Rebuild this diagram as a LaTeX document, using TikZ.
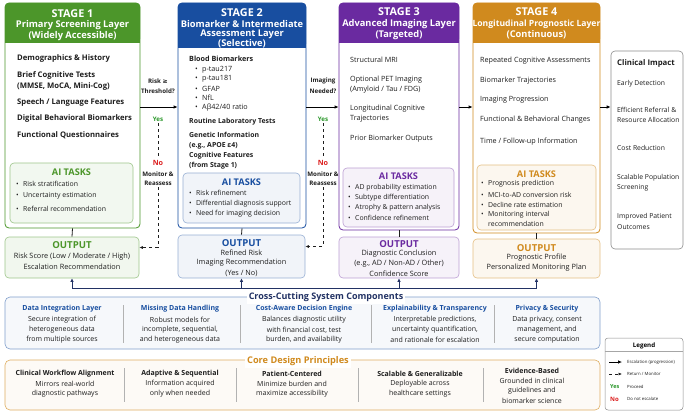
\documentclass[tikz,border=0pt]{standalone}
\usepackage{fontspec}
\setmainfont{Open Sans}
\newfontfamily\symfont{DejaVu Sans}
\usetikzlibrary{arrows.meta}

\definecolor{sgreen}{RGB}{76,150,42}
\definecolor{sblue}{RGB}{24,78,160}
\definecolor{spurple}{RGB}{106,42,160}
\definecolor{sorange}{RGB}{208,138,30}
\definecolor{navy}{RGB}{34,50,100}
\definecolor{txt}{RGB}{30,30,30}
\definecolor{yesgreen}{RGB}{40,150,40}
\definecolor{nored}{RGB}{220,30,30}

\begin{document}
\begin{tikzpicture}[x=1pt,y=-1pt]
  \tikzstyle{stage}=[draw,rounded corners=4pt,fill=white,line width=0.8pt,inner sep=0pt];
  \tikzstyle{head}=[rounded corners=4pt,inner sep=0pt];
  \tikzstyle{headtxt}=[text=white,inner sep=0pt,font=\fontsize{9.3}{10}\selectfont\bfseries];
  \tikzstyle{stagenum}=[text=white,inner sep=0pt,font=\fontsize{10.8}{12}\selectfont\bfseries];
  \tikzstyle{task}=[draw,rounded corners=4pt,line width=0.6pt,inner sep=0pt];
  \tikzstyle{outbox}=[draw,rounded corners=4pt,line width=0.6pt,inner sep=0pt];
  \tikzstyle{entry}=[anchor=west,inner sep=0pt,text=txt,font=\fontsize{7.7}{9}\selectfont\bfseries];
  \tikzstyle{plain}=[anchor=west,inner sep=0pt,text=txt,font=\fontsize{7.2}{9}\selectfont];
  \tikzstyle{bul}=[anchor=west,inner sep=0pt,text=txt,font=\fontsize{6.9}{8}\selectfont];
  \tikzstyle{tasktitle}=[inner sep=0pt,font=\fontsize{9.2}{10}\selectfont\bfseries];
  \tikzstyle{outtitle}=[inner sep=0pt,font=\fontsize{9.6}{11}\selectfont\bfseries];
  \tikzstyle{outtxt}=[inner sep=0pt,text=txt,font=\fontsize{7.3}{8}\selectfont];
  \tikzstyle{ask}=[inner sep=0pt,text=txt,font=\fontsize{6.2}{7}\selectfont\bfseries];
  \tikzstyle{yes}=[inner sep=0pt,text=yesgreen,font=\fontsize{6.2}{7}\selectfont\bfseries];
  \tikzstyle{no}=[inner sep=0pt,text=nored,font=\fontsize{7.2}{8}\selectfont\bfseries];
  \tikzstyle{flow}=[->,>={Latex[length=4pt,width=3.5pt]},line width=0.8pt,black];
  \tikzstyle{back}=[->,>={Latex[length=3.5pt,width=3pt]},line width=0.7pt,dashed,txt];
  \tikzstyle{link}=[line width=0.8pt,txt];
  \tikzstyle{bus}=[->,>={Latex[length=3.5pt,width=3.5pt]},line width=0.9pt,navy];
  \tikzstyle{band}=[draw,rounded corners=5pt,line width=0.6pt,inner sep=0pt];
  \tikzstyle{coltitle}=[inner sep=0pt,font=\fontsize{7}{8}\selectfont\bfseries];
  \tikzstyle{coltxt}=[inner sep=0pt,text=txt,font=\fontsize{7}{8}\selectfont];
  \tikzstyle{sep}=[line width=0.5pt,black!30];
  \tikzstyle{impact}=[anchor=west,inner sep=0pt,text=txt,font=\fontsize{6.8}{7.5}\selectfont];
  \tikzstyle{tiny}=[anchor=west,inner sep=0pt,text=txt,font=\fontsize{4.3}{5}\selectfont];

  \useasboundingbox (0,0) rectangle (685,413);

  % ---------------- stage frames
  \node[stage,draw=sgreen,minimum width=135,minimum height=225] (S1) at (72.5,115.5) {};
  \node[stage,draw=sblue,minimum width=128,minimum height=225] (S2) at (242,115.5) {};
  \node[stage,draw=spurple,minimum width=120,minimum height=227] (S3) at (399,116.5) {};
  \node[stage,draw=sorange,minimum width=127,minimum height=230] (S4) at (536.5,118) {};

  % headers
  \node[head,fill=sgreen,minimum width=135,minimum height=40,anchor=north] (H1) at (S1.north) {};
  \node[head,fill=sblue,minimum width=128,minimum height=45,anchor=north] (H2) at (S2.north) {};
  \node[head,fill=spurple,minimum width=120,minimum height=40,anchor=north] (H3) at (S3.north) {};
  \node[head,fill=sorange,minimum width=127,minimum height=40,anchor=north] (H4) at (S4.north) {};
  \fill[sgreen] ([yshift=8pt]H1.south west) rectangle (H1.south east);
  \fill[sblue] ([yshift=8pt]H2.south west) rectangle (H2.south east);
  \fill[spurple] ([yshift=8pt]H3.south west) rectangle (H3.south east);
  \fill[sorange] ([yshift=8pt]H4.south west) rectangle (H4.south east);

  \node[stagenum] (H1a) at (72.5,14) {STAGE 1};
  \node[headtxt] (H1b) at (72.5,25) {Primary Screening Layer};
  \node[headtxt] (H1c) at (72.5,36) {(Widely Accessible)};
  \node[stagenum] (H2a) at (242,13) {STAGE 2};
  \node[headtxt] (H2b) at (242,24) {Biomarker \& Intermediate};
  \node[headtxt] (H2c) at (242,34) {Assessment Layer};
  \node[headtxt] (H2d) at (242,44) {(Selective)};
  \node[stagenum] (H3a) at (399,12) {STAGE 3};
  \node[headtxt] (H3b) at (399,24) {Advanced Imaging Layer};
  \node[headtxt] (H3c) at (399,35) {(Targeted)};
  \node[stagenum] (H4a) at (536.5,12) {STAGE 4};
  \node[headtxt,font=\fontsize{8.6}{10}\selectfont\bfseries] (H4b) at (536.5,24) {Longitudinal Prognostic Layer};
  \node[headtxt] (H4c) at (536.5,35) {(Continuous)};

  % ---------------- stage 1 inputs
  \node[entry] (s1a) at (17,58) {Demographics \& History};
  \node[entry] (s1b) at (17,75) {Brief Cognitive Tests};
  \node[entry] (s1c) at (17,86) {(MMSE, MoCA, Mini-Cog)};
  \node[entry] (s1d) at (17,102) {Speech / Language Features};
  \node[entry] (s1e) at (17,118) {Digital Behavioral Biomarkers};
  \node[entry] (s1f) at (17,135) {Functional Questionnaires};

  % stage 2 inputs
  \node[entry,font=\fontsize{7.2}{9}\selectfont\bfseries] (s2a) at (189,59) {Blood Biomarkers};
  \node[plain] (s2b) at (195,70) {\makebox[7pt][l]{\textbullet}p-tau217};
  \node[plain] (s2c) at (195,79) {\makebox[7pt][l]{\textbullet}p-tau181};
  \node[plain] (s2d) at (195,89) {\makebox[7pt][l]{\textbullet}GFAP};
  \node[plain] (s2e) at (195,98) {\makebox[7pt][l]{\textbullet}NfL};
  \node[plain] (s2f) at (195,108) {\makebox[7pt][l]{\textbullet}Aβ42/40 ratio};
  \node[entry,font=\fontsize{6.9}{9}\selectfont\bfseries] (s2g) at (189,122) {Routine Laboratory Tests};
  \node[entry,font=\fontsize{6.9}{9}\selectfont\bfseries] (s2h) at (189,135) {Genetic Information};
  \node[entry,font=\fontsize{6.9}{9}\selectfont\bfseries] (s2i) at (189,146) {(e.g., APOE ε4)};
  \node[entry,font=\fontsize{6.9}{9}\selectfont\bfseries] (s2j) at (189,156) {Cognitive Features};
  \node[entry,font=\fontsize{6.9}{9}\selectfont\bfseries] (s2k) at (189,166) {(from Stage 1)};

  % stage 3 inputs
  \node[plain] (s3a) at (350,60) {Structural MRI};
  \node[plain] (s3b) at (350,80) {Optional PET Imaging};
  \node[plain] (s3c) at (350,90) {(Amyloid / Tau / FDG)};
  \node[plain] (s3d) at (350,109) {Longitudinal Cognitive};
  \node[plain] (s3e) at (350,119) {Trajectories};
  \node[plain] (s3f) at (350,139) {Prior Biomarker Outputs};

  % stage 4 inputs
  \node[plain] (s4a) at (480,61) {Repeated Cognitive Assessments};
  \node[plain] (s4b) at (480,81) {Biomarker Trajectories};
  \node[plain] (s4c) at (480,100) {Imaging Progression};
  \node[plain] (s4d) at (480,120) {Functional \& Behavioral Changes};
  \node[plain] (s4e) at (480,142) {Time / Follow-up Information};

  % ---------------- AI tasks
  \node[task,draw=sgreen!55,fill=sgreen!7,minimum width=123,minimum height=60] (AI1) at (71.5,193) {};
  \node[tasktitle,text=sgreen] (AI1t) at (71.5,172) {AI TASKS};
  \node[bul] (AI1a) at (16,184) {\makebox[7pt][l]{\textbullet}Risk stratification};
  \node[bul] (AI1b) at (16,196) {\makebox[7pt][l]{\textbullet}Uncertainty estimation};
  \node[bul] (AI1c) at (16,209) {\makebox[7pt][l]{\textbullet}Referral recommendation};

  \node[task,draw=sblue!45,fill=sblue!6,minimum width=117,minimum height=50] (AI2) at (241.5,198) {};
  \node[tasktitle,text=sblue] (AI2t) at (241.5,182) {AI TASKS};
  \node[bul] (AI2a) at (189,193) {\makebox[7pt][l]{\textbullet}Risk refinement};
  \node[bul] (AI2b) at (189,204) {\makebox[7pt][l]{\textbullet}Differential diagnosis support};
  \node[bul] (AI2c) at (189,214) {\makebox[7pt][l]{\textbullet}Need for imaging decision};

  \node[task,draw=spurple!45,fill=spurple!6,minimum width=111,minimum height=59] (AI3) at (398.5,197.5) {};
  \node[tasktitle,text=spurple] (AI3t) at (398.5,176) {AI TASKS};
  \node[bul] (AI3a) at (348,188) {\makebox[7pt][l]{\textbullet}AD probability estimation};
  \node[bul] (AI3b) at (348,198) {\makebox[7pt][l]{\textbullet}Subtype differentiation};
  \node[bul] (AI3c) at (348,208) {\makebox[7pt][l]{\textbullet}Atrophy \& pattern analysis};
  \node[bul] (AI3d) at (348,218) {\makebox[7pt][l]{\textbullet}Confidence refinement};

  \node[task,draw=sorange!55,fill=sorange!7,minimum width=119,minimum height=65] (AI4) at (536.5,197.5) {};
  \node[tasktitle,text=sorange] (AI4t) at (536.5,174) {AI TASKS};
  \node[bul] (AI4a) at (481,184) {\makebox[7pt][l]{\textbullet}Prognosis prediction};
  \node[bul] (AI4b) at (481,195) {\makebox[7pt][l]{\textbullet}MCI-to-AD conversion risk};
  \node[bul] (AI4c) at (481,205) {\makebox[7pt][l]{\textbullet}Decline rate estimation};
  \node[bul] (AI4d) at (481,215) {\makebox[7pt][l]{\textbullet}Monitoring interval};
  \node[bul] (AI4e) at (488,224) {recommendation};

  % ---------------- outputs
  \node[outbox,draw=sgreen!55,fill=sgreen!8,minimum width=134,minimum height=41] (O1) at (72,257.5) {};
  \node[outtitle,text=sgreen] (O1t) at (72,245) {OUTPUT};
  \node[outtxt] (O1a) at (72,257) {Risk Score (Low / Moderate / High)};
  \node[outtxt] (O1b) at (72,267) {Escalation Recommendation};

  \node[outbox,draw=sblue!45,fill=sblue!6,minimum width=127,minimum height=43] (O2) at (241.5,256.5) {};
  \node[outtitle,text=sblue] (O2t) at (241.5,243) {OUTPUT};
  \node[outtxt] (O2a) at (241.5,253) {Refined Risk};
  \node[outtxt] (O2b) at (241.5,263) {Imaging Recommendation};
  \node[outtxt] (O2c) at (241.5,273) {(Yes / No)};

  \node[outbox,draw=spurple!45,fill=spurple!6,minimum width=120,minimum height=41] (O3) at (399,257.5) {};
  \node[outtitle,text=spurple] (O3t) at (399,244) {OUTPUT};
  \node[outtxt] (O3a) at (399,254) {Diagnostic Conclusion};
  \node[outtxt] (O3b) at (399,264) {(e.g., AD / Non-AD / Other)};
  \node[outtxt] (O3c) at (399,274) {Confidence Score};

  \node[outbox,draw=sorange!55,fill=sorange!7,minimum width=127,minimum height=39] (O4) at (536.5,258.5) {};
  \node[outtitle,text=sorange] (O4t) at (536.5,248) {OUTPUT};
  \node[outtxt] (O4a) at (536.5,258) {Prognostic Profile};
  \node[outtxt] (O4b) at (536.5,268) {Personalized Monitoring Plan};

  % stage -> output
  \draw[link] (S1.south) -- (O1.north);
  \draw[link] (S2.south) -- (O2.north);
  \draw[link] (S3.south) -- (O3.north);
  \draw[link] (S4.south) -- (O4.north);

  % ---------------- clinical impact
  \node[draw=black!45,rounded corners=4pt,line width=0.6pt,fill=white,inner sep=0pt,minimum width=72,minimum height=198] (CI) at (647,150) {};
  \node[impact,font=\fontsize{7.8}{9}\selectfont\bfseries] (CIt) at (617,63) {Clinical Impact};
  \node[impact] (CIa) at (617,84) {Early Detection};
  \node[impact] (CIb) at (617,110) {Efficient Referral \&};
  \node[impact] (CIc) at (617,120) {Resource Allocation};
  \node[impact] (CId) at (617,148) {Cost Reduction};
  \node[impact] (CIe) at (617,178) {Scalable Population};
  \node[impact] (CIf) at (617,188) {Screening};
  \node[impact] (CIg) at (617,217) {Improved Patient};
  \node[impact] (CIh) at (617,227) {Outcomes};

  % ---------------- escalation
  \coordinate (row) at (0,107);
  \node[ask] (q1a) at (158,81) {Risk {\symfont ≥}};
  \node[ask] (q1b) at (158,91) {Threshold?};
  \node[yes] (yes1) at (158,119) {Yes};
  \node[no] (no1) at (158,163) {No};
  \node[ask] (m1a) at (158,174) {Monitor \&};
  \node[ask] (m1b) at (158,183) {Reassess};

  \node[ask] (q2a) at (323,81) {Imaging};
  \node[ask] (q2b) at (323,91) {Needed?};
  \node[yes] (yes2) at (323,119) {Yes};
  \node[no] (no2) at (323,163) {No};
  \node[ask] (m2a) at (323,174) {Monitor \&};
  \node[ask] (m2b) at (323,183) {Reassess};

  % S1 => S2 => S3 => S4 => impact
  \draw[flow] (S1.east |- row) -- (S2.west |- row);
  \draw[flow] (S2.east |- row) -- (S3.west |- row);
  \draw[flow] (S3.east |- row) -- (S4.west |- row);
  \draw[flow] (S4.east |- row) -- (CI.west |- row);

  % no : back to output
  \draw[dashed,line width=0.7pt,txt] ([yshift=-2pt]yes1.south) -- ([yshift=2pt]no1.north);
  \draw[back] ([yshift=-2pt]m1b.south) |- ([yshift=10pt]O1.east);
  \draw[dashed,line width=0.7pt,txt] ([yshift=-2pt]yes2.south) -- ([yshift=2pt]no2.north);
  \draw[back] ([yshift=-2pt]m2b.south) |- ([yshift=10pt]O2.east);

  % ---------------- cross-cutting components
  \node[band,draw=sblue!55,fill=sblue!4,minimum width=595,minimum height=52] (CC) at (302.5,323) {};
  \node[fill=white,inner sep=2pt,text=navy,font=\fontsize{9}{11}\selectfont\bfseries] (CCt) at (326,297) {Cross-Cutting System Components};

  \coordinate (bus) at (0,288);
  \draw[line width=0.9pt,navy] (O1.south |- bus) -- (O4.south |- bus);
  \draw[bus] (O1.south |- bus) -- (O1.south);
  \draw[bus] (O2.south |- bus) -- (O2.south);
  \draw[bus] (O3.south |- bus) -- (O3.south);
  \draw[bus] (O4.south |- bus) -- (O4.south);

  \node[coltitle,text=sblue] (c1t) at (62,309) {Data Integration Layer};
  \node[coltxt] (c1a) at (62,320) {Secure integration of};
  \node[coltxt] (c1b) at (62,330) {heterogeneous data};
  \node[coltxt] (c1c) at (62,340) {from multiple sources};
  \node[coltitle,text=sblue] (c2t) at (180,309) {Missing Data Handling};
  \node[coltxt] (c2a) at (180,320) {Robust models for};
  \node[coltxt] (c2b) at (180,330) {incomplete, sequential,};
  \node[coltxt] (c2c) at (180,340) {and heterogeneous data};
  \node[coltitle,text=sblue] (c3t) at (304,309) {Cost-Aware Decision Engine};
  \node[coltxt] (c3a) at (304,320) {Balances diagnostic utility};
  \node[coltxt] (c3b) at (304,330) {with financial cost, test};
  \node[coltxt] (c3c) at (304,340) {burden, and availability};
  \node[coltitle,text=sblue] (c4t) at (435,309) {Explainability \& Transparency};
  \node[coltxt] (c4a) at (435,320) {Interpretable predictions,};
  \node[coltxt] (c4b) at (435,330) {uncertainty quantification,};
  \node[coltxt] (c4c) at (435,340) {and rationale for escalation};
  \node[coltitle,text=sblue] (c5t) at (547,309) {Privacy \& Security};
  \node[coltxt] (c5a) at (547,320) {Data privacy, consent};
  \node[coltxt] (c5b) at (547,330) {management, and};
  \node[coltxt] (c5c) at (547,340) {secure computation};
  \foreach \xx in {123,240,371,494}
    \draw[sep] (\xx,305) -- (\xx,343);

  % ---------------- core design principles
  \node[band,draw=sorange!70,fill=sorange!4,minimum width=595,minimum height=50] (CD) at (302.5,385) {};
  \node[fill=white,inner sep=2pt,text=sorange,font=\fontsize{9.2}{10}\selectfont\bfseries] (CDt) at (298,361) {Core Design Principles};

  \node[coltitle,text=txt] (d1t) at (65,374) {Clinical Workflow Alignment};
  \node[coltxt] (d1a) at (65,384) {Mirrors real-world};
  \node[coltxt] (d1b) at (65,394) {diagnostic pathways};
  \node[coltitle,text=txt] (d2t) at (180,374) {Adaptive \& Sequential};
  \node[coltxt] (d2a) at (180,384) {Information acquired};
  \node[coltxt] (d2b) at (180,394) {only when needed};
  \node[coltitle,text=txt] (d3t) at (292,374) {Patient-Centered};
  \node[coltxt] (d3a) at (292,384) {Minimize burden and};
  \node[coltxt] (d3b) at (292,394) {maximize accessibility};
  \node[coltitle,text=txt] (d4t) at (420,374) {Scalable \& Generalizable};
  \node[coltxt] (d4a) at (420,384) {Deployable across};
  \node[coltxt] (d4b) at (420,394) {healthcare settings};
  \node[coltitle,text=txt] (d5t) at (532,371) {Evidence-Based};
  \node[coltxt] (d5a) at (532,381) {Grounded in clinical};
  \node[coltxt] (d5b) at (532,391) {guidelines and};
  \node[coltxt] (d5c) at (532,401) {biomarker science};
  \foreach \xx in {124,236,358,483}
    \draw[sep] (\xx,368) -- (\xx,402);

  % ---------------- legend
  \node[draw=black!45,rounded corners=3pt,line width=0.5pt,fill=white,inner sep=0pt,minimum width=78,minimum height=72] (LG) at (644,374) {};
  \node[inner sep=0pt,font=\fontsize{6.2}{7}\selectfont\bfseries] (LGt) at (644,346) {Legend};
  \draw[line width=0.4pt,black!35] ([yshift=-13pt]LG.north west) -- ([yshift=-13pt]LG.north east);
  \coordinate (l1a) at (609,362);
  \coordinate (l1b) at (622,362);
  \coordinate (l2a) at (609,374);
  \coordinate (l2b) at (622,374);
  \draw[flow,line width=0.7pt] (l1a) -- (l1b);
  \draw[back,line width=0.6pt] (l2a) -- (l2b);
  \node[tiny] (lg1) at (627,362) {Escalation (progression)};
  \node[tiny] (lg2) at (627,374) {Return / Monitor};
  \node[yes,anchor=west,font=\fontsize{5.5}{6}\selectfont\bfseries] (lg3y) at (610,387) {Yes};
  \node[tiny] (lg3) at (627,387) {Proceed};
  \node[no,anchor=west,font=\fontsize{6}{6}\selectfont\bfseries] (lg4y) at (610,399) {No};
  \node[tiny] (lg4) at (627,399) {Do not escalate};

\end{tikzpicture}
\end{document}
